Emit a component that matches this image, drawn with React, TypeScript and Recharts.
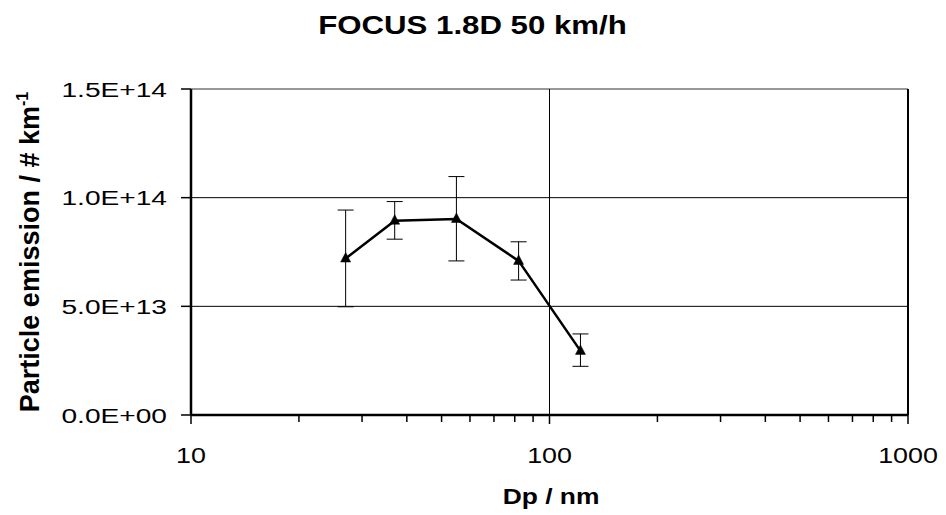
import React from "react";
import { LineChart, Line, XAxis, YAxis, ErrorBar, ReferenceLine } from "recharts";

const dp = [27, 37, 55, 82, 122];
const emission = [7.2e13, 8.94e13, 9.02e13, 7.09e13, 2.95e13];
const errLow = [2.22e13, 0.85e13, 1.93e13, 0.88e13, 0.71e13];
const errHigh = [2.23e13, 0.88e13, 1.95e13, 0.88e13, 0.78e13];
const xTicks = [10, 100, 1000];
const xTickLabels = ["10", "100", "1000"];
const xMinorTicks = [20, 30, 40, 50, 60, 70, 80, 90, 200, 300, 400, 500, 600, 700, 800, 900];
const yTicks = [0, 5e13, 1e14, 1.5e14];
const yTickLabels = ["0.0E+00", "5.0E+13", "1.0E+14", "1.5E+14"];
const hGrid = [5e13, 1e14, 1.5e14];
const vGrid = [100, 1000];

const data = dp.map((d, i) => ({ dp: d, em: emission[i], err: [errLow[i], errHigh[i]] }));
const allXTicks = [...xTicks, ...xMinorTicks].sort((a, b) => a - b);

const FONT = "'Liberation Sans', Arial, sans-serif";

const renderYTick = (props: any) => {
  const { x, y, payload } = props;
  const idx = yTicks.indexOf(payload.value);
  return (
    <g>
      <line x1={x - 10} x2={x} y1={y} y2={y} stroke="#000" strokeWidth={1.5} />
      <text transform={`translate(${x - 24},${y}) scale(1.34,1)`} textAnchor="end" dy="0.36em" fontSize={21} fontFamily={FONT} fill="#000">
        {idx >= 0 ? yTickLabels[idx] : ""}
      </text>
    </g>
  );
};

const renderXTick = (props: any) => {
  const { x, y, payload } = props;
  const idx = xTicks.indexOf(payload.value);
  const major = idx >= 0;
  return (
    <g>
      <line x1={x} x2={x} y1={y} y2={y + (major ? 9 : 7)} stroke="#000" strokeWidth={1.5} />
      {major && (
        <text transform={`translate(${x},${y + 48}) scale(1.22,1)`} textAnchor="middle" fontSize={22} fontFamily={FONT} fill="#000">
          {xTickLabels[idx]}
        </text>
      )}
    </g>
  );
};

const renderTriangle = (props: any) => {
  const { cx, cy, index } = props;
  if (cx == null || cy == null) return <g key={index} />;
  return (
    <polygon key={index} points={`${cx},${cy - 6} ${cx - 5},${cy + 3.5} ${cx + 5},${cy + 3.5}`} fill="#000" stroke="#000" strokeWidth={0.5} />
  );
};

export default function App() {
  return (
    <div style={{ position: "absolute", left: 8, top: 8, width: 930, height: 507, fontFamily: FONT }}>
      <LineChart width={930} height={507} data={data} margin={{ top: 81, right: 30, bottom: 0, left: 0 }}>
        <XAxis
          xAxisId="x"
          dataKey="dp"
          type="number"
          scale="log"
          domain={[10, 1000]}
          ticks={allXTicks}
          allowDataOverflow
          height={100}
          interval={0}
          axisLine={false}
          tickLine={false}
          tickSize={0}
          tickMargin={0}
          tick={renderXTick}
        />
        <YAxis
          yAxisId="y"
          type="number"
          domain={[0, 1.5e14]}
          ticks={yTicks}
          allowDataOverflow
          width={183}
          interval={0}
          axisLine={false}
          tickLine={false}
          tickSize={0}
          tickMargin={0}
          tick={renderYTick}
        />
        {hGrid.map((v) => (
          <ReferenceLine key={"h" + v} xAxisId="x" yAxisId="y" y={v} stroke={v === 1.5e14 ? "#333" : "#000"} strokeWidth={1} />
        ))}
        {vGrid.map((v) => (
          <ReferenceLine key={"v" + v} xAxisId="x" yAxisId="y" x={v} stroke="#000" strokeWidth={v === 1000 ? 2 : 1} />
        ))}
        <ReferenceLine xAxisId="x" yAxisId="y" y={0} stroke="#000" strokeWidth={2.5} />
        <ReferenceLine xAxisId="x" yAxisId="y" x={10} stroke="#000" strokeWidth={2.5} />
        <Line
          xAxisId="x"
          yAxisId="y"
          dataKey="em"
          stroke="#000"
          strokeWidth={2.5}
          dot={renderTriangle}
          activeDot={false}
          isAnimationActive={false}
        >
          <ErrorBar dataKey="err" width={8} stroke="#000" strokeWidth={1} direction="y" isAnimationActive={false} />
        </Line>
        <text transform="translate(464.5,26) scale(1.2,1)" textAnchor="middle" fontSize={26} fontWeight="bold" fontFamily={FONT} fill="#000">
          FOCUS 1.8D 50 km/h
        </text>
        <text transform="translate(543,496) scale(1.2,1)" textAnchor="middle" fontSize={22} fontWeight="bold" fontFamily={FONT} fill="#000">
          Dp / nm
        </text>
        <text transform="translate(31,244) rotate(-90)" textAnchor="middle" fontSize={27} fontWeight="bold" fontFamily={FONT} fill="#000">
          Particle emission / # km
          <tspan dy={-11} fontSize={16}>-1</tspan>
        </text>
      </LineChart>
    </div>
  );
}
